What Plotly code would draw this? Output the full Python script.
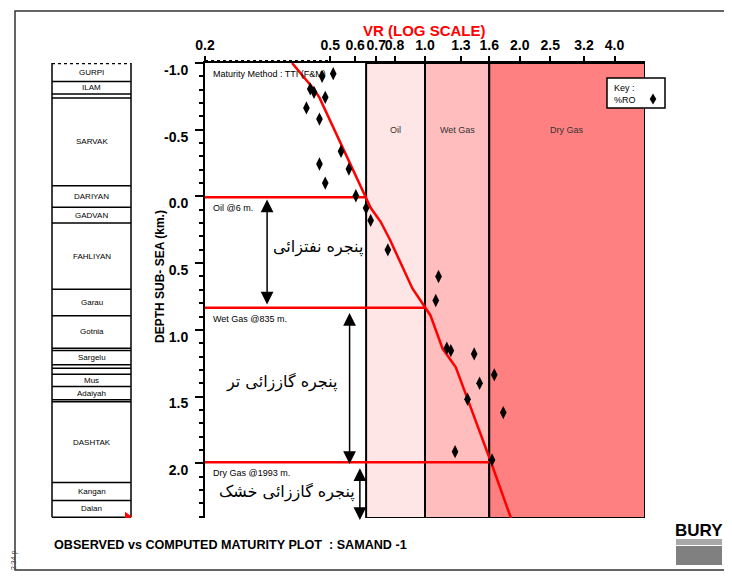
import numpy as np
import plotly.graph_objects as go

# ---------------- data ----------------
vr_tick_values = [0.2, 0.5, 0.6, 0.7, 0.8, 1.0, 1.3, 1.6, 2.0, 2.5, 3.2, 4.0]
vr_tick_labels = ["0.2", "0.5", "0.6", "0.7", "0.8", "1.0", "1.3", "1.6", "2.0", "2.5", "3.2", "4.0"]
depth_tick_values = [-1.0, -0.5, 0.0, 0.5, 1.0, 1.5, 2.0]
depth_tick_labels = ["-1.0", "-0.5", "0.0", "0.5", "1.0", "1.5", "2.0"]

computed_ro = [0.378, 0.425, 0.445, 0.462, 0.655, 0.672, 0.723, 0.774, 0.912,
               1.005, 1.04, 1.137, 1.253, 1.62, 1.875]
computed_depth = [-1.0, -0.86, -0.80, -0.74, 0.02, 0.085, 0.19, 0.325, 0.69,
                  0.835, 0.89, 1.14, 1.28, 1.99, 2.41]

observed_ro = [0.471, 0.511, 0.432, 0.444, 0.482, 0.420, 0.462, 0.541, 0.573,
               0.462, 0.482, 0.603, 0.650, 0.672, 0.762, 1.104, 1.082, 1.173,
               1.208, 1.433, 1.66, 1.491, 1.365, 1.773, 1.246, 1.633]
observed_depth = [-0.90, -0.92, -0.806, -0.78, -0.743, -0.663, -0.58, -0.338,
                  -0.205, -0.243, -0.10, -0.005, 0.087, 0.18, 0.40, 0.60, 0.78,
                  1.137, 1.155, 1.18, 1.337, 1.40, 1.52, 1.62, 1.913, 1.975]

window_names = ["Oil", "Wet Gas", "Dry Gas"]
window_ro_start = [0.65, 1.0, 1.6]
window_ro_end = [1.0, 1.6, 5.0]
window_top_depth = [0.006, 0.835, 1.993]
window_top_labels = ["Oil @6 m.", "Wet Gas @835 m.", "Dry Gas @1993 m."]
window_persian = ["پنجره نفتزائی", "پنجره گاززائی تر", "پنجره گاززائی خشک"]

formation_names = ["GURPI", "ILAM", "", "SARVAK", "DARIYAN", "GADVAN", "FAHLIYAN",
                   "Garau", "Gotnia", "", "Sargelu", "", "", "Mus", "Adaiyah", "",
                   "DASHTAK", "Kangan", "Dalan"]
formation_tops = [-1.0, -0.862, -0.768, -0.738, -0.080, 0.082, 0.200, 0.695, 0.894,
                  1.137, 1.154, 1.262, 1.287, 1.332, 1.424, 1.524, 1.539, 2.144, 2.279]
column_base = 2.404

# ---------------- styling / layout constants ----------------
FONT = "Liberation Sans, Arial, sans-serif"
window_fill = ["#FFE6E6", "#FFBDBD", "#FF8080"]
XMIN, XMAX = 0.2, 5.0
YTOP, YBOT = -1.0, 2.41
PAGE_OFF = 8                          # browser body margin
W, H = 732 - 2 * PAGE_OFF, 584 - 2 * PAGE_OFF
PL, PT, PW, PH = 205, 63, 440, 455   # plot area in page pixels
L, T = PL - PAGE_OFF, PT - PAGE_OFF
R, B = W - L - PW, H - T - PH


def px(xp):
    return (xp - PL) / PW


def py(yp):
    return (PT + PH - yp) / PH


def note(x, y, text, size, color="black", bold=False, family=FONT, xanchor="center", **kw):
    return dict(x=px(x), y=py(y), xref="paper", yref="paper", text=text, showarrow=False,
                xanchor=xanchor, yanchor="middle",
                font=dict(family=family, size=size, color=color,
                          weight="bold" if bold else "normal"), **kw)


fig = go.Figure()

shapes = []
annotations = []

# frame
shapes.append(dict(type="rect", xref="paper", yref="paper", x0=px(15), x1=px(745), y0=py(570),
                   y1=py(11), line=dict(color="#333333", width=1.5), fillcolor="rgba(0,0,0,0)",
                   layer="below"))

# maturity windows
for i in range(3):
    shapes.append(dict(type="rect", xref="x", yref="y", x0=window_ro_start[i], x1=window_ro_end[i],
                       y0=YTOP, y1=YBOT, fillcolor=window_fill[i],
                       line=dict(color="black", width=2), layer="below"))
    annotations.append(dict(x=np.log10(np.sqrt(window_ro_start[i] * window_ro_end[i])), y=-0.5,
                            xref="x", yref="y", text=window_names[i], showarrow=False,
                            font=dict(family=FONT, size=9, color="#333333")))

# window top lines
for i in range(3):
    fig.add_trace(go.Scatter(x=[XMIN, window_ro_start[i]], y=[window_top_depth[i]] * 2,
                             mode="lines", line=dict(color="#FF0000", width=2.5),
                             hoverinfo="skip"))
    annotations.append(dict(x=np.log10(XMIN), y=window_top_depth[i], xref="x", yref="y",
                            text=window_top_labels[i], showarrow=False, xanchor="left",
                            xshift=6, yshift=-11, font=dict(family=FONT, size=9, color="black")))

# computed line
fig.add_trace(go.Scatter(x=computed_ro, y=computed_depth, mode="lines",
                         line=dict(color="#FF0000", width=2.5), hoverinfo="skip"))
# observed points
fig.add_trace(go.Scatter(x=observed_ro, y=observed_depth, mode="markers",
                         marker=dict(symbol="diamond-tall", size=9.5, color="black"),
                         hoverinfo="skip"))

# arrows
arrow_x = [0.315, 0.576, 0.621]
arrow_top = [0.012, 0.862, 2.025]
arrow_bot = [0.81, 2.005, 2.425]
for i in range(3):
    annotations.append(dict(x=np.log10(arrow_x[i]), y=arrow_bot[i], ax=np.log10(arrow_x[i]),
                            ay=arrow_top[i], xref="x", yref="y", axref="x", ayref="y",
                            showarrow=True, arrowside="end+start", arrowhead=2, startarrowhead=2,
                            arrowsize=1.7, startarrowsize=1.7, arrowwidth=1.5,
                            arrowcolor="black", text=""))

# persian labels
persian_pos = [(0.458, 0.377), (0.351, 1.388), (0.364, 2.213)]
for i in range(3):
    annotations.append(dict(x=np.log10(persian_pos[i][0]), y=persian_pos[i][1], xref="x", yref="y",
                            text=window_persian[i], showarrow=False,
                            font=dict(family="DejaVu Sans", size=16, color="black")))

annotations.append(dict(x=np.log10(XMIN), y=-0.915, xref="x", yref="y", xanchor="left", xshift=6,
                        text="Maturity Method : TTI (F&M)", showarrow=False,
                        font=dict(family=FONT, size=9, color="black")))

# top axis hatched segment 0.2-0.5
shapes.append(dict(type="line", xref="x", yref="paper", x0=0.2, x1=0.5, y0=1.0 + 1.5 / PH,
                   y1=1.0 + 1.5 / PH, line=dict(color="black", width=3, dash="dot")))

# stratigraphic column
cx0, cx1 = px(52), px(131)
shapes.append(dict(type="line", xref="paper", yref="y", x0=cx0, x1=cx1, y0=YTOP, y1=YTOP,
                   line=dict(color="black", width=2.5, dash="dot")))
shapes.append(dict(type="line", xref="paper", yref="y", x0=cx0, x1=cx0, y0=YTOP, y1=column_base,
                   line=dict(color="black", width=1.5)))
shapes.append(dict(type="line", xref="paper", yref="y", x0=cx1, x1=cx1, y0=YTOP, y1=column_base,
                   line=dict(color="black", width=1.5)))
bases = formation_tops[1:] + [column_base]
for i, name in enumerate(formation_names):
    shapes.append(dict(type="line", xref="paper", yref="y", x0=cx0, x1=cx1, y0=bases[i], y1=bases[i],
                       line=dict(color="black", width=1.5)))
    if name:
        annotations.append(dict(x=(cx0 + cx1) / 2, y=(formation_tops[i] + bases[i]) / 2,
                                xref="paper", yref="y", text=name, showarrow=False,
                                xanchor="center", yanchor="middle",
                                font=dict(family=FONT, size=8, color="black")))
shapes.append(dict(type="path", xref="paper", yref="y",
                   path=f"M {px(125)},2.363 L {px(125)},2.438 L {px(132)},2.40 Z",
                   fillcolor="#FF0000", line=dict(color="#FF0000", width=0)))

# key box
shapes.append(dict(type="rect", xref="paper", yref="paper", x0=px(607), x1=px(665),
                   y0=py(108), y1=py(78), fillcolor="white", line=dict(color="black", width=1.5),
                   layer="above"))
shapes.append(dict(type="path", xref="paper", yref="paper",
                   path=(f"M {px(653)},{py(93.5)} L {px(656.3)},{py(99)} L {px(653)},{py(104.5)} "
                         f"L {px(649.7)},{py(99)} Z"),
                   fillcolor="black", line=dict(color="black", width=0), layer="above"))
annotations.append(note(612, 88, "Key :", 9, xanchor="left"))
annotations.append(note(612, 100, "%RO", 9, xanchor="left"))

# titles
annotations.append(note(424, 30, "VR (LOG SCALE)", 15, color="#FF0000", bold=True))
annotations.append(note(160, 277, "DEPTH SUB- SEA (km.)", 12, bold=True, textangle=-90))
annotations.append(note(52, 545, "OBSERVED vs COMPUTED MATURITY PLOT  : SAMAND -1", 12.6,
                        bold=True, xanchor="left"))
annotations.append(note(14, 560, "2:34 p", 7, color="#444444", textangle=-90))

# BURY logo
annotations.append(note(699, 530, "BURY", 17, bold=True,
                        family="Liberation Sans Narrow, Liberation Sans"))
shapes.append(dict(type="rect", xref="paper", yref="paper", x0=px(676), x1=px(722), y0=py(545),
                   y1=py(539), fillcolor="#A8A8A8", line=dict(width=0)))
shapes.append(dict(type="rect", xref="paper", yref="paper", x0=px(676), x1=px(722), y0=py(565),
                   y1=py(546), fillcolor="#808080", line=dict(width=0)))

fig.update_layout(
    width=W, height=H, margin=dict(l=L, r=R, t=T, b=B, autoexpand=False),
    paper_bgcolor="white", plot_bgcolor="rgba(0,0,0,0)", showlegend=False,
    shapes=shapes, annotations=annotations,
    xaxis=dict(type="log", range=[np.log10(XMIN), np.log10(XMAX)], side="top",
               tickmode="array", tickvals=vr_tick_values, ticktext=vr_tick_labels, tickangle=0,
               ticks="outside", ticklen=5, tickwidth=2, tickcolor="black",
               showline=True, linewidth=2, linecolor="black", showgrid=False, zeroline=False,
               tickfont=dict(family=FONT, size=14, color="black", weight="bold")),
    yaxis=dict(range=[YBOT, YTOP], tickmode="array", tickvals=depth_tick_values,
               ticktext=depth_tick_labels, ticks="outside", ticklen=8, tickwidth=2,
               tickcolor="black", showline=True, linewidth=2, linecolor="black",
               showgrid=False, zeroline=False, ticklabelshift=-7, ticklabelstandoff=4,
               minor=dict(dtick=0.1, tick0=0, ticks="outside", ticklen=4, tickwidth=2,
                          tickcolor="black", showgrid=False),
               tickfont=dict(family=FONT, size=14, color="black", weight="bold")),
)

fig.write_html("out.html")
